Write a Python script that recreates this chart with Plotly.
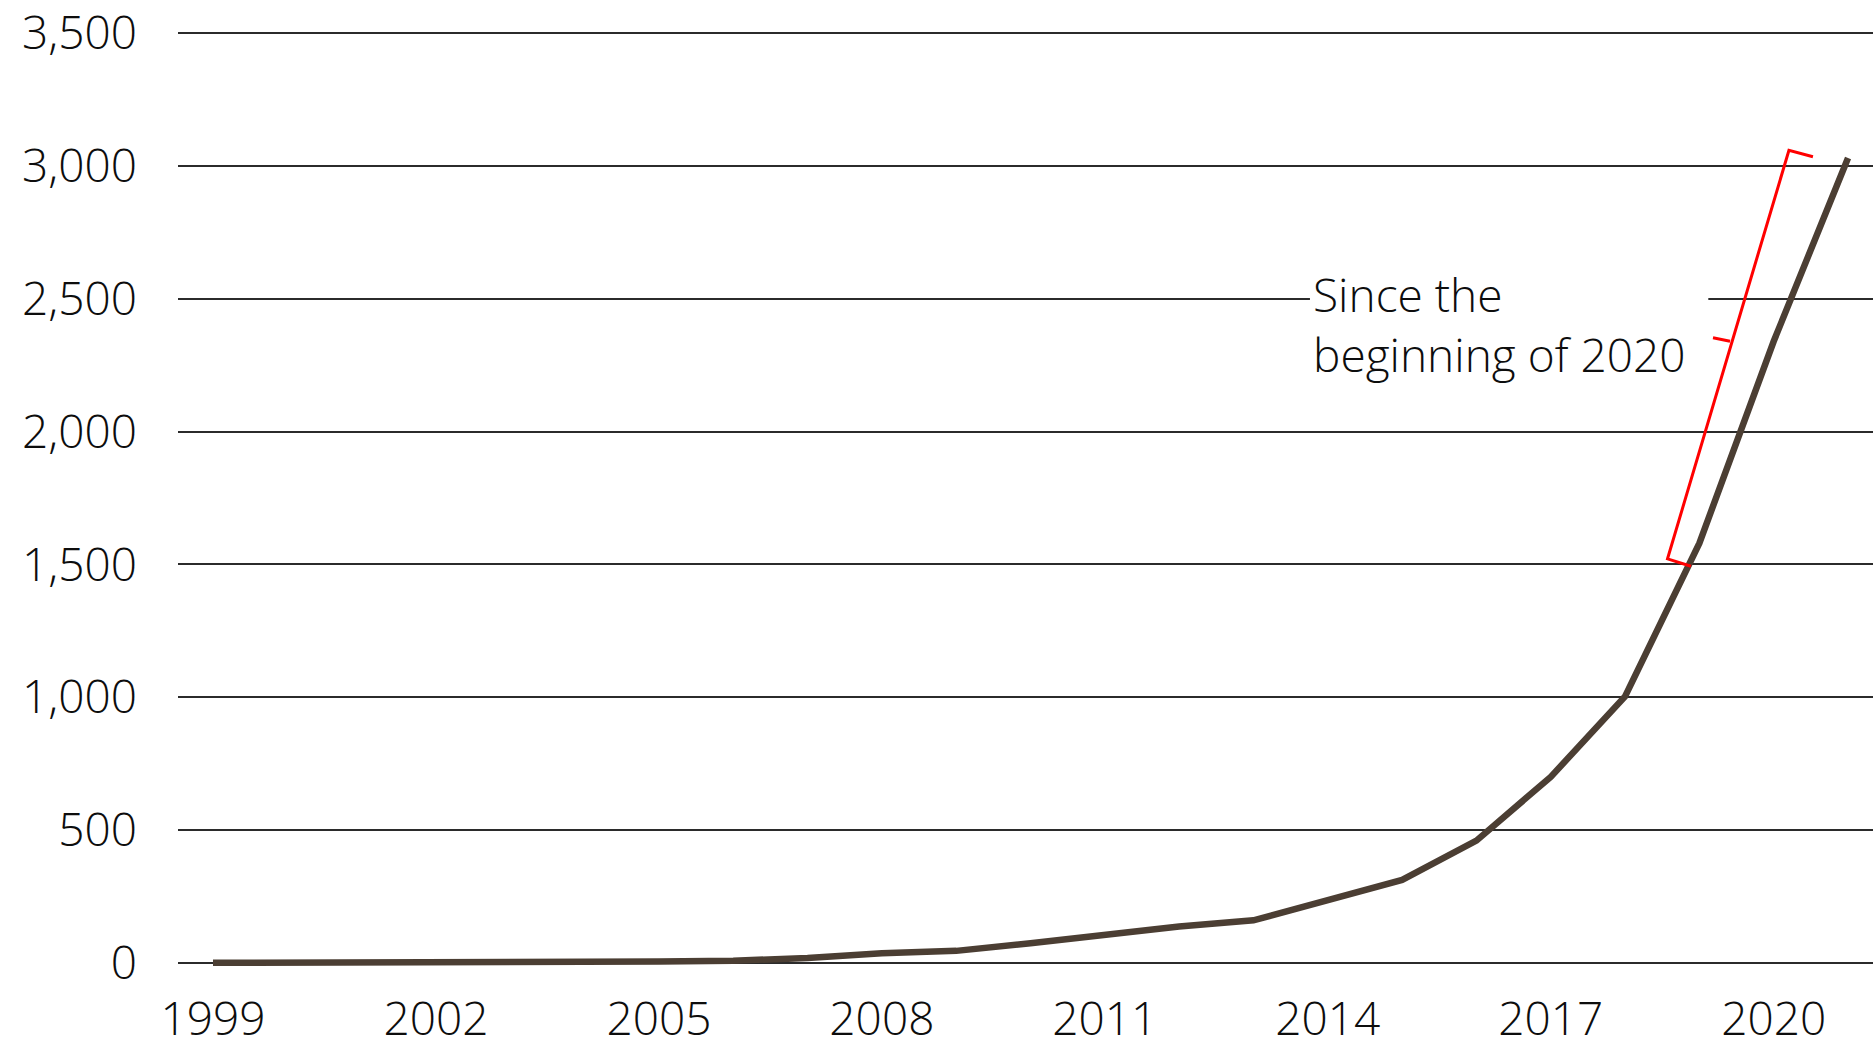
import plotly.graph_objects as go

# Annual values, 1999-2021
years = list(range(1999, 2022))
values = [0, 0, 0, 0, 1, 3, 5, 8, 18, 36, 45, 74, 108, 137, 160, 235, 312, 460, 700, 1003, 1580, 2340, 3030]

x_ticks = [1999, 2002, 2005, 2008, 2011, 2014, 2017, 2020]
y_ticks = [0, 500, 1000, 1500, 2000, 2500, 3000, 3500]
y_tick_text = ["0", "500", "1,000", "1,500", "2,000", "2,500", "3,000", "3,500"]

callout_text = "Since the<br>beginning of 2020"

# Bracket around the 2019-2021 surge (data coordinates)
bracket_x = [2018.887, 2018.571, 2020.205, 2020.528]
bracket_y = [1493, 1521, 3059, 3035]
bracket_tick_x = [2019.412, 2019.183]
bracket_tick_y = [2340, 2353]

FONT = "Open Sans"
FS = 46
WEIGHT = 350
GRID = "#2b2b2b"
LINE = "#4b3e33"
TEXT = "#0d0d0d"

fig = go.Figure()

fig.add_trace(go.Scatter(
    x=years, y=values, mode="lines",
    line=dict(color=LINE, width=6.5),
    hoverinfo="skip", showlegend=False,
))

fig.add_trace(go.Scatter(
    x=bracket_x, y=bracket_y, mode="lines",
    line=dict(color="#ff0000", width=3),
    hoverinfo="skip", showlegend=False,
))
fig.add_trace(go.Scatter(
    x=bracket_tick_x, y=bracket_tick_y, mode="lines",
    line=dict(color="#ff0000", width=3),
    hoverinfo="skip", showlegend=False,
))

# White patch so the gridline breaks behind the callout text
fig.add_shape(
    type="rect", xref="x", yref="y",
    x0=2013.76, x1=2019.12, y0=2420, y1=2580,
    fillcolor="white", line=dict(width=0), layer="above",
)

fig.add_annotation(
    text=callout_text, xref="x", yref="y",
    x=2013.77, y=2405, xanchor="left", yanchor="middle",
    align="left", showarrow=False,
    font=dict(family=FONT, size=FS, color=TEXT, weight=WEIGHT),
)

fig.update_layout(
    width=1873, height=1040,
    margin=dict(l=178, r=0, t=30, b=74),
    paper_bgcolor="white", plot_bgcolor="white",
    font=dict(family=FONT, size=FS, color=TEXT, weight=WEIGHT),
    showlegend=False,
)

fig.update_xaxes(
    range=[1998.529, 2021.336], automargin=False,
    tickvals=x_ticks, ticktext=[str(v) for v in x_ticks],
    showgrid=False, zeroline=False, showline=False,
    ticks="", ticklabelstandoff=22,
    tickfont=dict(family=FONT, size=FS, color=TEXT, weight=WEIGHT),
)

fig.update_yaxes(
    range=[-12, 3512], automargin=False,
    tickvals=y_ticks, ticktext=y_tick_text,
    showgrid=True, gridcolor=GRID, gridwidth=1.5,
    zeroline=True, zerolinecolor=GRID, zerolinewidth=1.5,
    showline=False, ticks="", ticklabelstandoff=40,
    tickfont=dict(family=FONT, size=FS, color=TEXT, weight=WEIGHT),
)

fig.write_html("out.html")
